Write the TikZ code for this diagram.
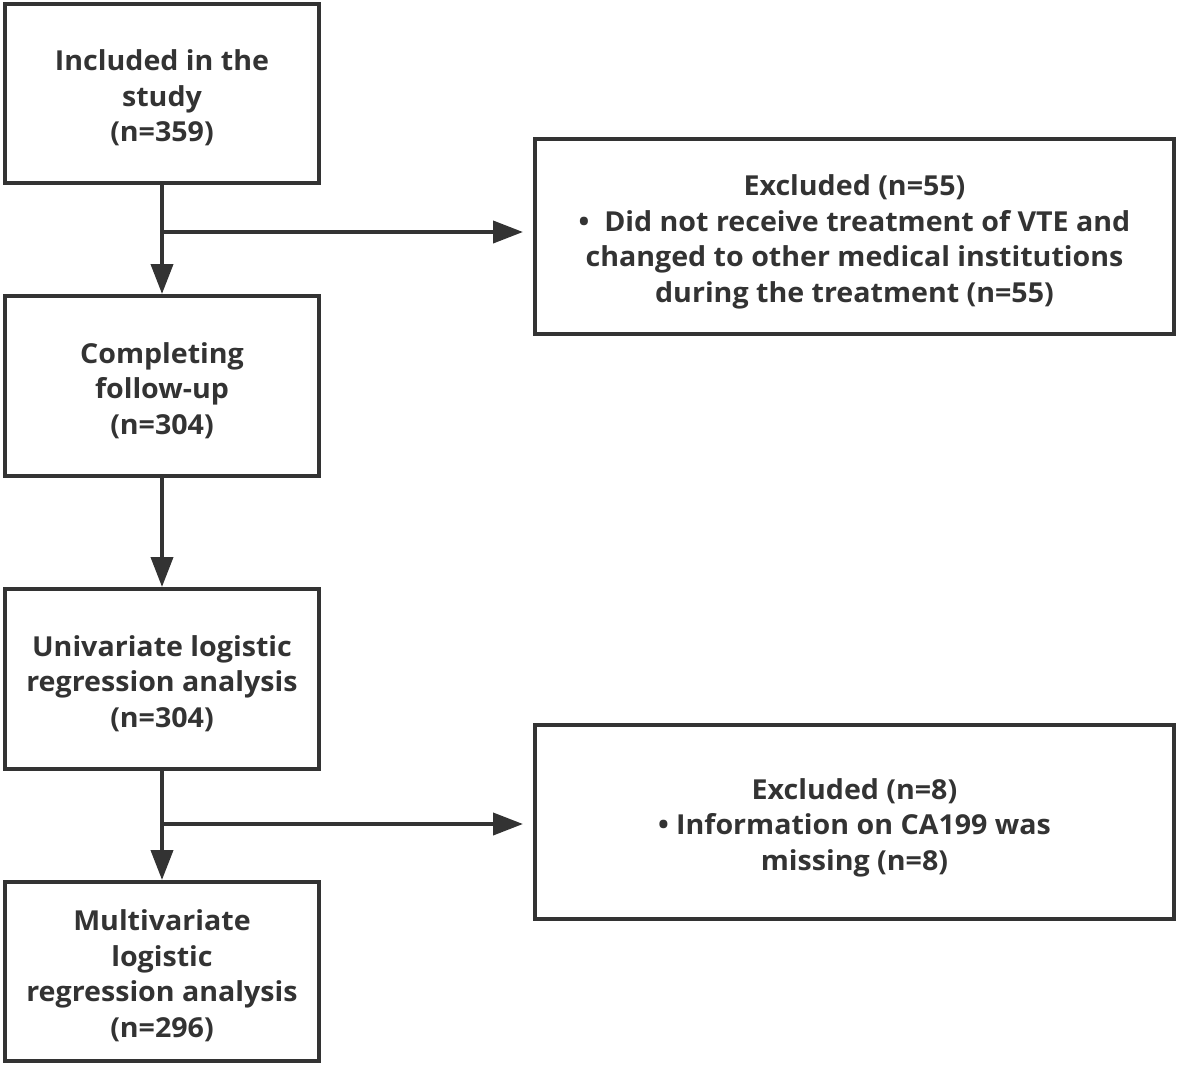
\documentclass[tikz,border=0pt]{standalone}
\usepackage{fontspec}
\setmainfont{Open Sans}[FakeStretch=1.04]
\usetikzlibrary{arrows.meta}
\definecolor{ink}{HTML}{333333}
\newcommand{\dn}[1]{\raisebox{-5.5pt}[\height][\depth]{\begin{tabular}{@{}c@{}}#1\end{tabular}}}
\begin{document}
\begin{tikzpicture}[x=1pt,y=-1pt,
  box/.style={draw=ink,line width=4pt,rectangle,inner sep=0pt,align=center,text=ink,
    font=\bfseries\fontsize{27.5}{35.5}\selectfont},
  conn/.style={draw=ink,line width=4pt,-{Triangle[width=22pt,length=30pt]}}]
\useasboundingbox (0,0) rectangle (1179,1066);
\node[box,minimum width=314pt,minimum height=179pt] (b1) at (162,93.5) {\dn{Included in the\\study\\(n=359)}};
\node[box,minimum width=314pt,minimum height=180pt] (b2) at (162,386) {\dn{Completing\\follow-up\\(n=304)}};
\node[box,minimum width=314pt,minimum height=180pt] (b3) at (162,679) {\dn{Univariate logistic\\regression analysis\\(n=304)}};
\node[box,minimum width=314pt,minimum height=179pt] (b4) at (162,971.5) {\dn{Multivariate\\logistic\\regression analysis\\(n=296)}};
\node[box,minimum width=639pt,minimum height=195pt] (r1) at (854.5,236.5) {\dn{Excluded (n=55)\\\textbullet\ \ Did not receive treatment of VTE and\\changed to other medical institutions\\during the treatment (n=55)}};
\node[box,minimum width=639pt,minimum height=194pt] (r2) at (854.5,822) {\dn{Excluded (n=8)\\\textbullet\ Information on CA199 was\\missing (n=8)}};
\coordinate (j1) at (162,232);
\coordinate (j2) at (162,824);
\draw[conn] (b1) -- (b2);
\draw[conn] (b2) -- (b3);
\draw[conn] (b3) -- (b4);
\draw[conn,shorten >=10pt] (j1) -- (j1 -| r1.west);
\draw[conn,shorten >=10pt] (j2) -- (j2 -| r2.west);
\end{tikzpicture}
\end{document}
